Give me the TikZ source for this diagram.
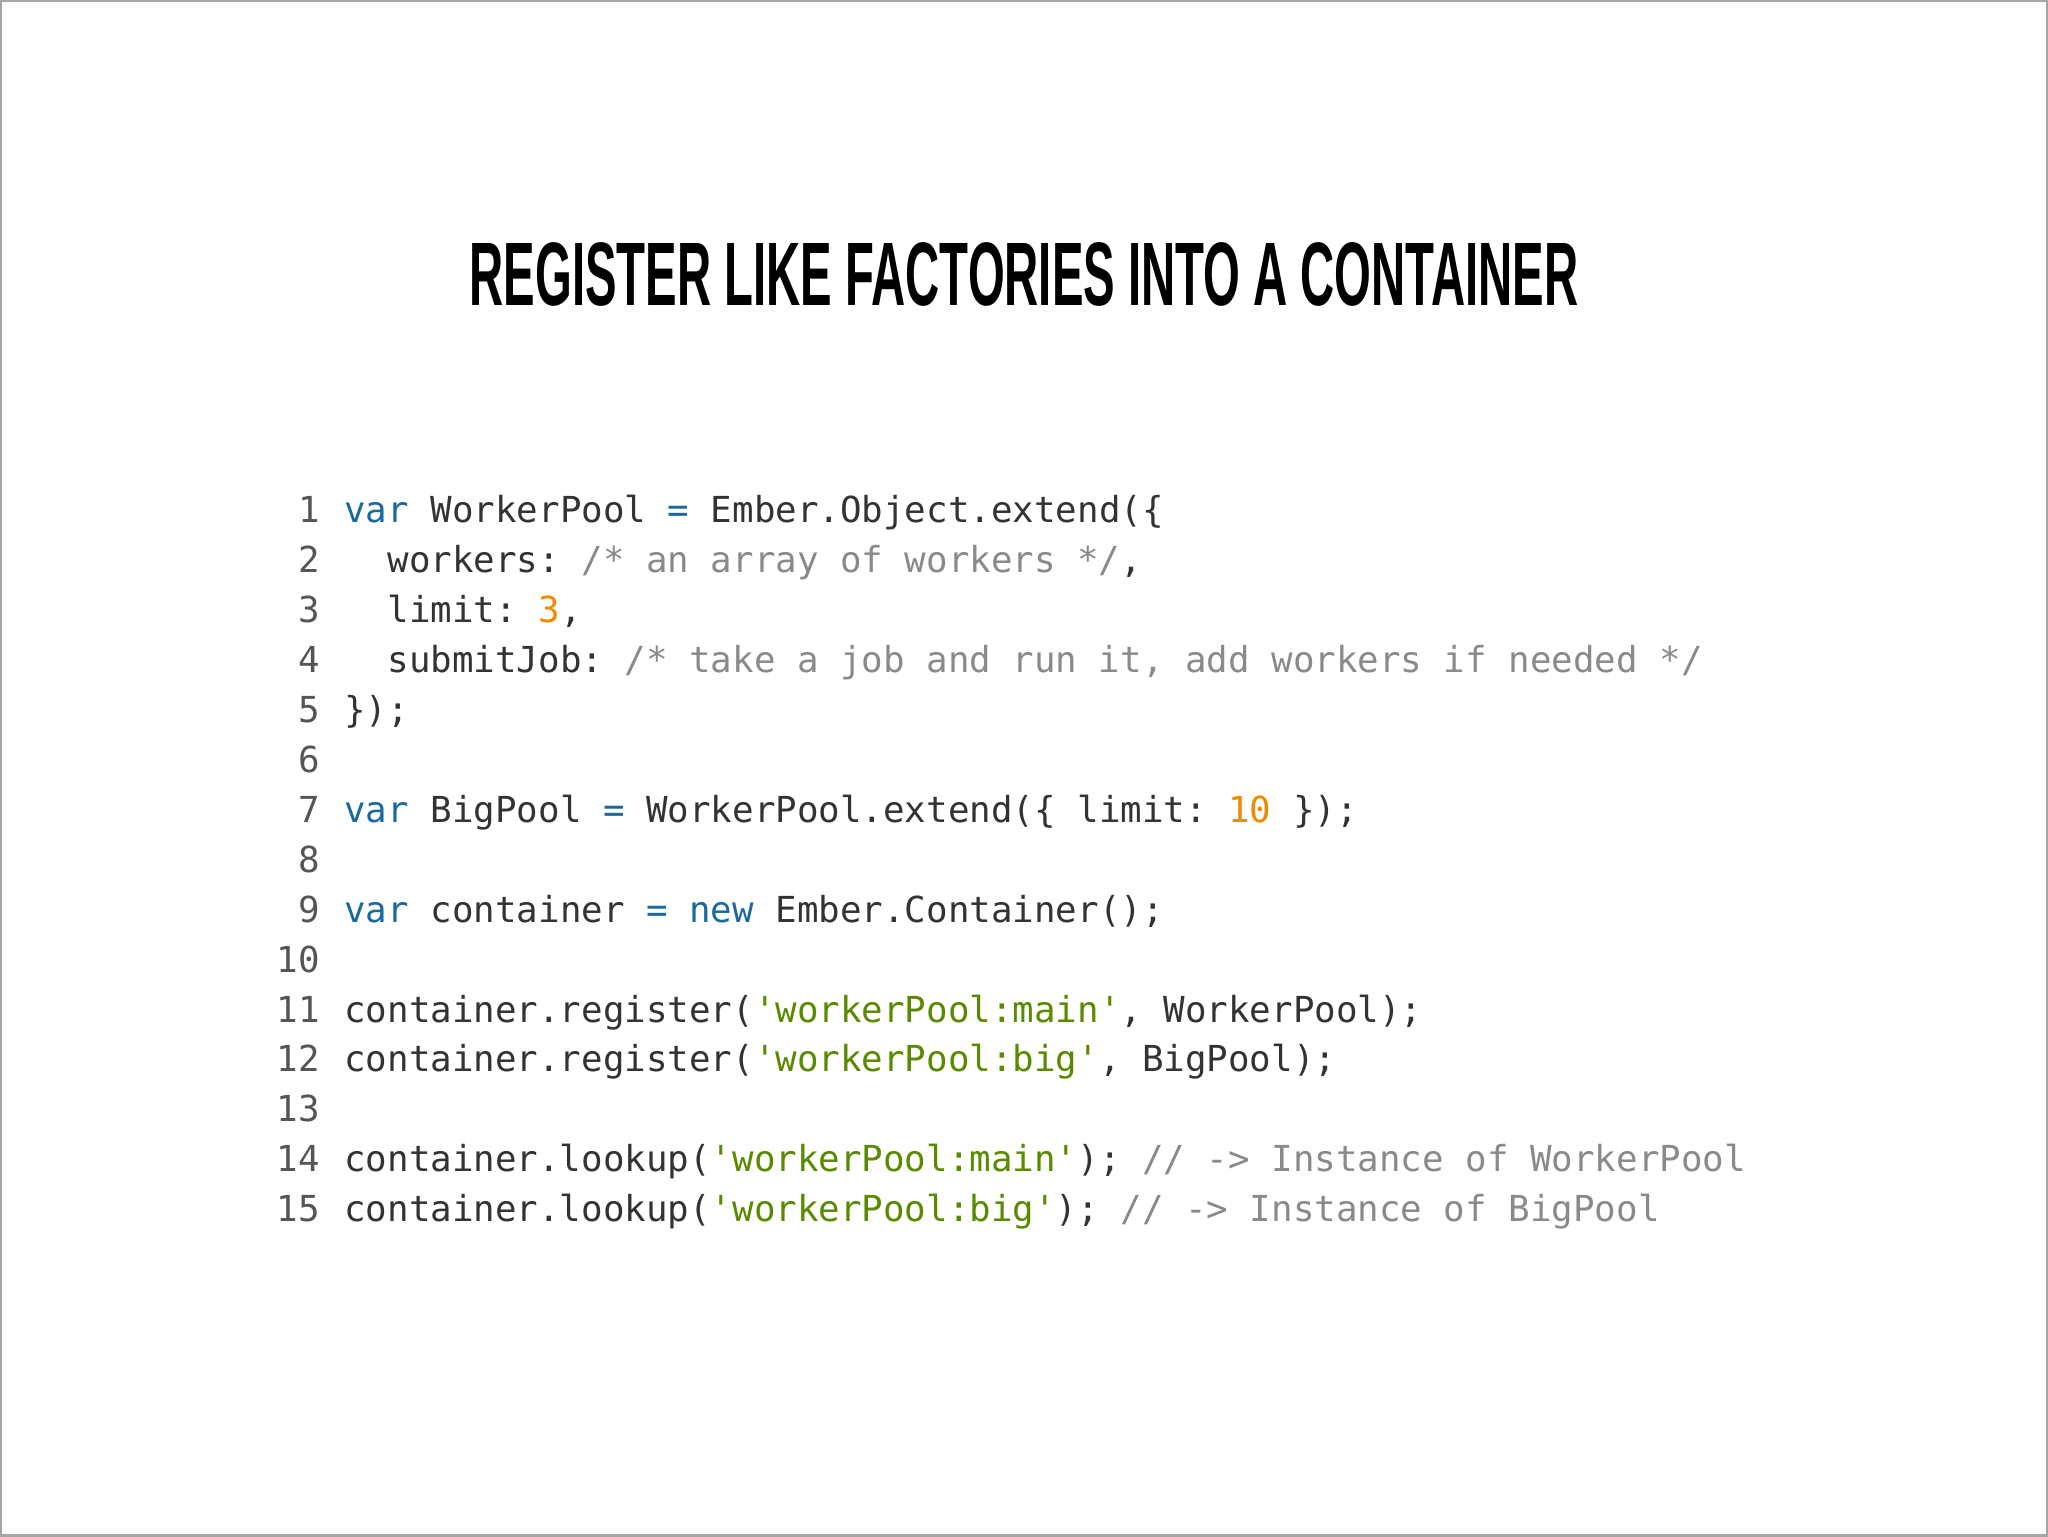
\documentclass[tikz,border=0pt]{standalone}
\usepackage{fontspec}
\setmainfont{Liberation Sans}
\setmonofont{DejaVu Sans Mono}
\definecolor{kw}{HTML}{1A6AA0}
\definecolor{cm}{HTML}{8A8A8A}
\definecolor{st}{HTML}{5A8A00}
\definecolor{nu}{HTML}{F08A00}
\definecolor{tx}{HTML}{333333}
\definecolor{ln}{HTML}{555555}
\newcommand{\K}[1]{\textcolor{kw}{#1}}
\newcommand{\C}[1]{\textcolor{cm}{#1}}
\newcommand{\St}[1]{\textcolor{st}{#1}}
\newcommand{\N}[1]{\textcolor{nu}{#1}}
\begin{document}
\begin{tikzpicture}[
  code/.style={anchor=base west,inner sep=0pt,font=\ttfamily\fontsize{10.2pt}{12pt}\selectfont,text=tx},
  num/.style={anchor=base east,inner sep=0pt,font=\ttfamily\fontsize{10.2pt}{12pt}\selectfont,text=ln}]
\draw[gray!70,line width=0.6pt,fill=white] (0,0) rectangle (20.48,15.36);
\useasboundingbox (0,0) rectangle (20.48,15.36);
\node[anchor=base,inner sep=0pt] (title) at (10.24,12.31)
  {\resizebox{11.1cm}{0.63cm}{\bfseries REGISTER LIKE FACTORIES INTO A CONTAINER}};
\foreach \i/\t in {
 1/{\K{var} WorkerPool \K{=} Ember.Object.extend(\{},
 2/{\ \ workers: \C{/* an array of workers */},},
 3/{\ \ limit: \N{3},},
 4/{\ \ submitJob: \C{/* take a job and run it, add workers if needed */}},
 5/{\});},
 6/{},
 7/{\K{var} BigPool \K{=} WorkerPool.extend(\{ limit: \N{10} \});},
 8/{},
 9/{\K{var} container \K{=} \K{new} Ember.Container();},
 10/{},
 11/{container.register(\St{'workerPool:main'}, WorkerPool);},
 12/{container.register(\St{'workerPool:big'}, BigPool);},
 13/{},
 14/{container.lookup(\St{'workerPool:main'}); \C{// -> Instance of WorkerPool}},
 15/{container.lookup(\St{'workerPool:big'}); \C{// -> Instance of BigPool}}}{
  \node[num] (n\i) at (3.20,{10.14-0.5*(\i-1)}) {\i};
  \node[code] (c\i) at (3.43,{10.14-0.5*(\i-1)}) {\strut\t};
}
\end{tikzpicture}
\end{document}
